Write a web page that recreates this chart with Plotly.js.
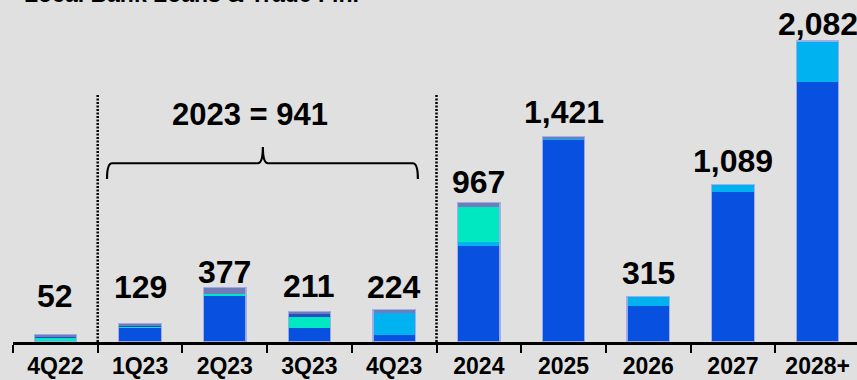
<!DOCTYPE html>
<html>
<head>
<meta charset="utf-8">
<script src="https://cdn.plot.ly/plotly-3.0.1.min.js"></script>
<style>html,body{margin:0;padding:0;background:#E0E0E0;}#chart{width:857px;height:380px;}</style>
</head>
<body>
<div id="chart"></div>
<script>
// ---- data ----
const categories = ['4Q22','1Q23','2Q23','3Q23','4Q23','2024','2025','2026','2027','2028+'];
const totals     = [52, 129, 377, 211, 224, 967, 1421, 315, 1089, 2082];
const blueSeg    = [3, 95, 315, 95, 51, 667, 1395, 249, 1034, 1801];
const lightBlueSeg = [0, 0, 0, 0, 151, 25, 10, 66, 55, 281];
const aquaSeg    = [22, 12, 14, 81, 0, 240, 0, 0, 0, 0];
const navySeg    = [13, 2, 0, 21, 0, 0, 0, 0, 0, 0];
const greySeg    = [14, 20, 48, 14, 22, 35, 16, 0, 0, 0];
const groupLabel = '2023 = 941';
const titleText  = 'Local Bank Loans & Trade Fin.';

// ---- layout helpers ----
const FONT = 'Liberation Sans, Arial, sans-serif';
const W = 857, H = 380, M = {l: 13, r: 0, t: 10, b: 38};
const plotH = H - M.t - M.b;
const pxPerUnit = 0.1446;
const yMax = plotH / pxPerUnit;
// label vertical offsets (px above bar top)
const labelShift = [38, 36, 15, 25, 23, 20, 25, 23, 24, 17];

const seriesDefs = [
  {y: blueSeg, color: '#0750E0'},
  {y: lightBlueSeg, color: '#00B2F0'},
  {y: aquaSeg, color: '#00E8C2'},
  {y: navySeg, color: '#2A4BC4'},
  {y: greySeg, color: '#6F7DBA'}
];
const traces = seriesDefs.map(s => ({
  type: 'bar', x: categories, y: s.y,
  marker: {color: s.color, line: {width: 0}},
  hoverinfo: 'skip', showlegend: false
}));
const sums = categories.map((c, i) => seriesDefs.reduce((a, s) => a + s.y[i], 0));
traces.push({
  type: 'bar', x: categories, y: sums, xaxis: 'x2', yaxis: 'y2',
  marker: {color: 'rgba(0,0,0,0)', line: {width: 1.2, color: 'rgba(160,172,232,0.95)'}},
  hoverinfo: 'skip', showlegend: false
});

const annotations = categories.map((c, i) => ({
  x: i, y: totals[i], xref: 'x', yref: 'y',
  text: totals[i].toLocaleString('en-US'),
  showarrow: false, yanchor: 'middle', yshift: labelShift[i],
  font: {family: FONT, size: 32, color: '#000', weight: 700}
}));
annotations.push({
  x: 2.3, y: 1570, xref: 'x', yref: 'y', text: groupLabel, showarrow: false,
  yanchor: 'middle', font: {family: FONT, size: 31, color: '#000', weight: 700}
});
annotations.push({
  x: 9 / (W - M.l - M.r), y: 1.004, xref: 'paper', yref: 'paper',
  xanchor: 'left', yanchor: 'bottom', text: titleText, showarrow: false,
  font: {family: FONT, size: 23, color: '#000', weight: 700}
});

const braceY = 1236, braceEnd = 1127, braceTip = 1348;
const bL = 0.61, bR = 4.28, bM = 2.45, c = 0.06;
const bracePath = `M ${bL},${braceEnd} Q ${bL},${braceY} ${bL + c},${braceY} L ${bM - c},${braceY} ` +
  `Q ${bM},${braceY} ${bM},${braceTip} Q ${bM},${braceY} ${bM + c},${braceY} L ${bR - c},${braceY} ` +
  `Q ${bR},${braceY} ${bR},${braceEnd}`;

const shapes = [
  {type: 'line', xref: 'x', yref: 'y', x0: 0.5, x1: 0.5, y0: 0, y1: 1708,
   line: {color: '#000', width: 2.5, dash: '2px,1.5px'}},
  {type: 'line', xref: 'x', yref: 'y', x0: 4.5, x1: 4.5, y0: 0, y1: 1708,
   line: {color: '#000', width: 2.5, dash: '2px,1.5px'}},
  {type: 'path', xref: 'x', yref: 'y', path: bracePath, line: {color: '#000', width: 2.2}}
];

const xRange = [-0.5, -0.5 + (W - M.l - M.r) / 84.7];
const layout = {
  width: W, height: H, margin: M,
  paper_bgcolor: '#E0E0E0', plot_bgcolor: '#E0E0E0',
  barmode: 'stack', bargap: 0.5,
  showlegend: false,
  xaxis: {
    type: 'category', categoryorder: 'array', categoryarray: categories,
    range: xRange, tickson: 'boundaries', ticks: 'outside', ticklen: 8, tickwidth: 2,
    tickcolor: '#000', showline: true, linewidth: 2.5, linecolor: '#000',
    showgrid: false, zeroline: false, fixedrange: true, ticklabelstandoff: 2,
    tickfont: {family: FONT, size: 23, color: '#000', weight: 700}
  },
  yaxis: {range: [0, yMax], visible: false, fixedrange: true},
  xaxis2: {type: 'category', categoryorder: 'array', categoryarray: categories,
    range: xRange, overlaying: 'x', visible: false},
  yaxis2: {range: [0, yMax], overlaying: 'y', visible: false},
  annotations: annotations,
  shapes: shapes
};
Plotly.newPlot('chart', traces, layout, {staticPlot: true, displayModeBar: false});
</script>
</body>
</html>
